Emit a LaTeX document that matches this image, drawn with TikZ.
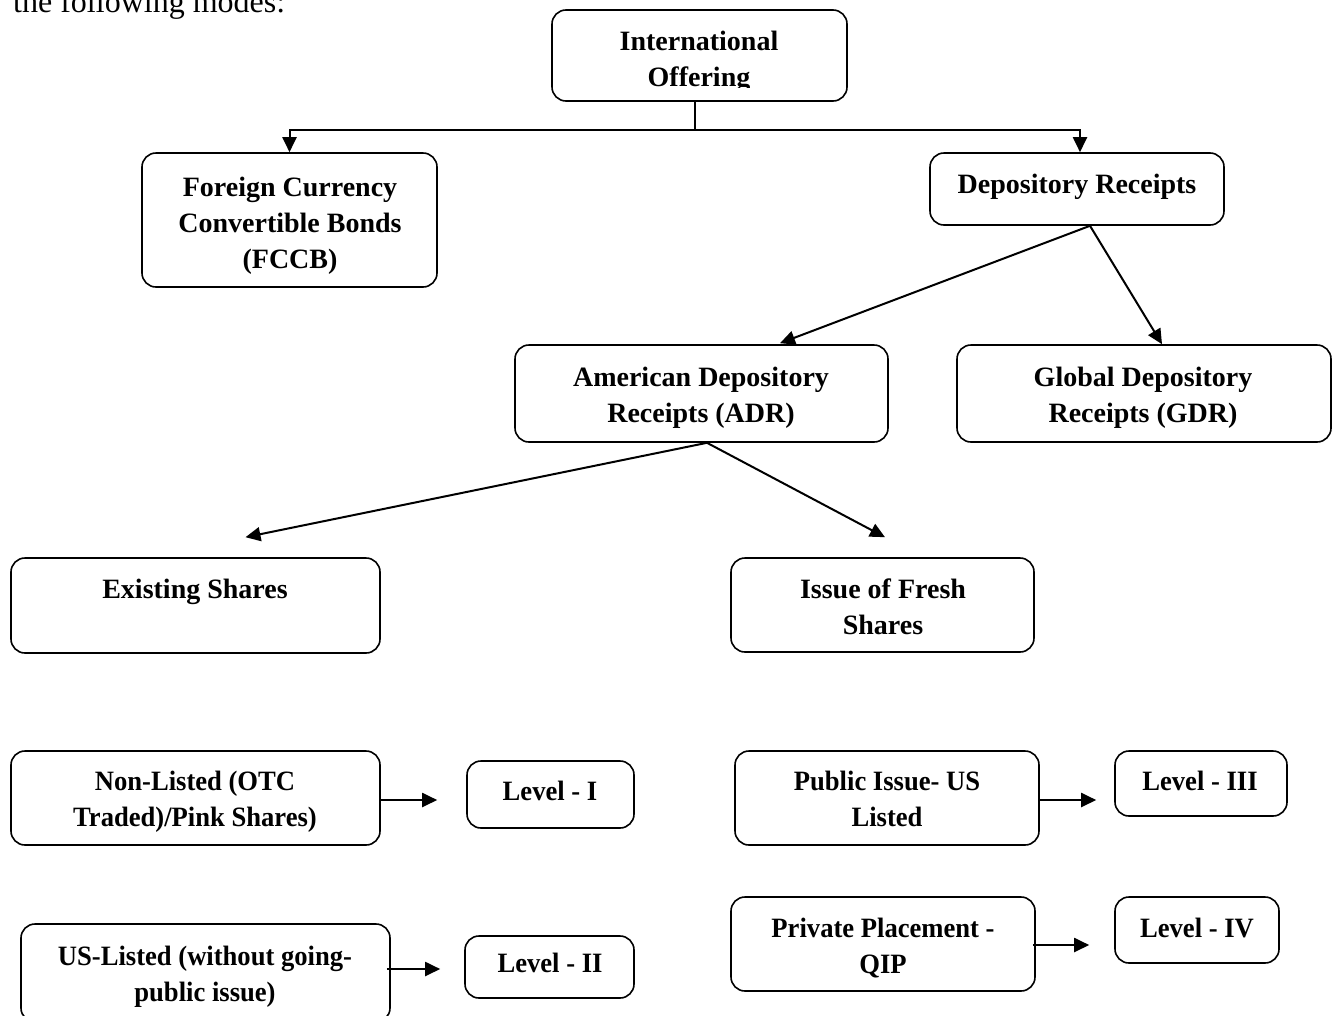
\documentclass[tikz,border=0pt]{standalone}
\usepackage{fontspec}
\setmainfont{Liberation Serif}
\newfontfamily\condfont{Liberation Serif}[FakeStretch=0.95]
\usetikzlibrary{arrows.meta}
\newcommand\mybox[5]{\node[box, minimum width={#4-#2}, minimum height={#5-#3}] (#1) at ({(#2+#4)/2},{(#3+#5)/2}) {};}
\begin{document}
\begin{tikzpicture}[x=1pt,y=-1pt,
  box/.style={draw, line width=1.6pt, rounded corners=14pt, inner sep=0pt},
  txt/.style={font=\fontsize{28}{36}\selectfont\bfseries, align=center, inner sep=0pt},
  ctxt/.style={font=\condfont\fontsize{28}{36}\selectfont\bfseries, align=center, inner sep=0pt},
  arr/.style={line width=2pt, -{Triangle[length=15pt,width=14pt]}},
  ln/.style={line width=2pt}]
\useasboundingbox (0,0) rectangle (1337,1015);

\node[anchor=base west, font=\fontsize{32}{38}\selectfont, inner sep=0pt] (intro) at (13,12) {the following modes:};

% boxes
\mybox{io}{552}{10}{847}{101}
\mybox{fccb}{142}{153}{437}{287}
\mybox{dr}{930}{153}{1224}{225}
\mybox{adr}{515}{345}{888}{442}
\mybox{gdr}{957}{345}{1331}{442}
\mybox{ex}{11}{558}{380}{653}
\mybox{fr}{731}{558}{1034}{652}
\mybox{nl}{11}{751}{380}{845}
\mybox{la}{467}{761}{634}{828}
\mybox{us}{21}{924}{390}{1022}
\mybox{lb}{465}{936}{634}{998}
\mybox{pi}{735}{751}{1039}{845}
\mybox{lc}{1115}{751}{1287}{816}
\mybox{pp}{731}{897}{1035}{991}
\mybox{ld}{1115}{897}{1279}{963}

% texts
\begin{scope}
\clip (552,10) rectangle (847,87);
\node[txt] (tio) at (699,61.5) {International\\Offering};
\end{scope}
\node[txt] (tfccb) at (290,225.5) {Foreign Currency\\Convertible Bonds\\(FCCB)};
\node[txt] (tdr) at (1077,187) {Depository Receipts};
\node[txt] (tadr) at (701,398) {American Depository\\Receipts (ADR)};
\node[txt] (tgdr) at (1143,398) {Global Depository\\Receipts (GDR)};
\node[txt] (tex) at (195,592) {Existing Shares};
\node[txt] (tfr) at (883,607) {Issue of Fresh\\Shares};
\node[ctxt] (tnl) at (195,802) {Non-Listed (OTC\\Traded)/Pink Shares)};
\node[ctxt] (tla) at (550,791) {Level - I};
\node[ctxt] (tus) at (205,977) {US-Listed (without going-\\public issue)};
\node[ctxt] (tlb) at (550,963) {Level - II};
\node[ctxt] (tpi) at (887,799) {Public Issue- US\\Listed};
\node[ctxt] (tlc) at (1200,781) {Level - III};
\node[ctxt] (tpp) at (883,948) {Private Placement -\\QIP};
\node[ctxt] (tld) at (1197,928) {Level - IV};

% connectors
\coordinate (split) at ([xshift=-4.5pt,yshift=-28pt]io.south);
\draw[ln] ([xshift=-4.5pt]io.south) -- (split);
\draw[arr] (split) -| (fccb.north);
\draw[arr] (split) -| ([xshift=3pt]dr.north);
\draw[arr] ([xshift=13pt]dr.south) -- ([xshift=78.5pt,yshift=1pt]adr.north);
\draw[arr] ([xshift=13pt]dr.south) -- ([xshift=18pt]gdr.north);
\draw[arr] ([xshift=5.5pt]adr.south) -- ([xshift=50pt,yshift=20pt]ex.north);
\draw[arr] ([xshift=5.5pt]adr.south) -- ([xshift=2.5pt,yshift=20pt]fr.north);
\coordinate (nlo) at ([yshift=-2pt]nl.east);
\coordinate (uso) at ([xshift=-4pt,yshift=4pt]us.east);
\coordinate (pio) at ([yshift=-2pt]pi.east);
\coordinate (ppo) at ([xshift=-3pt,yshift=-1pt]pp.east);
\draw[arr] (nlo) -- ([xshift=-29pt]la.west |- nlo);
\draw[arr] (uso) -- ([xshift=-24pt]lb.west |- uso);
\draw[arr] (pio) -- ([xshift=-18pt]lc.west |- pio);
\draw[arr] (ppo) -- ([xshift=-25pt]ld.west |- ppo);
\end{tikzpicture}
\end{document}
